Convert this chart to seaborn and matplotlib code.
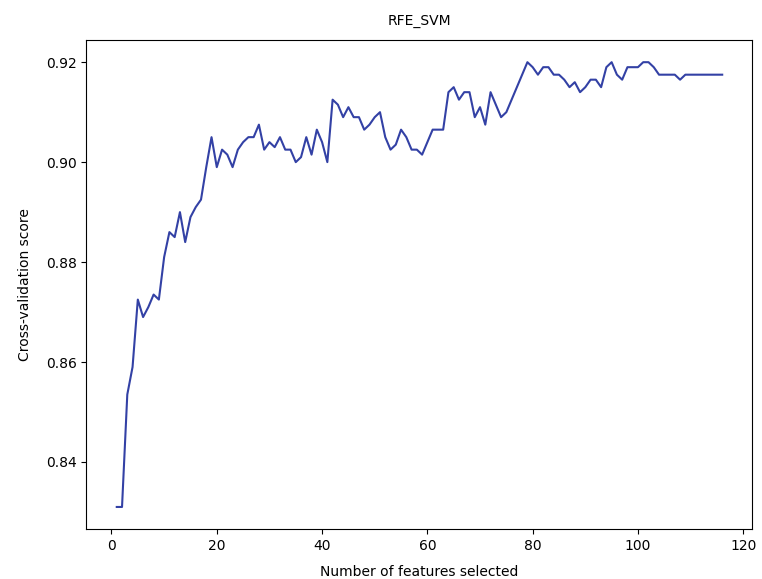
import matplotlib
matplotlib.use("Agg")
import matplotlib.pyplot as plt
import seaborn as sns
import pandas as pd

n_features = list(range(1, 117))
cv_scores = [
    0.831, 0.831, 0.8535, 0.859, 0.8725, 0.869, 0.871, 0.8735, 0.8725, 0.881,
    0.886, 0.885, 0.890, 0.884, 0.889, 0.891, 0.8925, 0.899, 0.905, 0.899,
    0.9025, 0.9015, 0.899, 0.9025, 0.904, 0.905, 0.905, 0.9075, 0.9025, 0.904,
    0.903, 0.905, 0.9025, 0.9025, 0.900, 0.901, 0.905, 0.9015, 0.9065, 0.904,
    0.900, 0.9125, 0.9115, 0.909, 0.911, 0.909, 0.909, 0.9065, 0.9075, 0.909,
    0.910, 0.905, 0.9025, 0.9035, 0.9065, 0.905, 0.9025, 0.9025, 0.9015, 0.904,
    0.9065, 0.9065, 0.9065, 0.914, 0.915, 0.9125, 0.914, 0.914, 0.909, 0.911,
    0.9075, 0.914, 0.9115, 0.909, 0.910, 0.9125, 0.915, 0.9175, 0.920, 0.919,
    0.9175, 0.919, 0.919, 0.9175, 0.9175, 0.9165, 0.915, 0.916, 0.914, 0.915,
    0.9165, 0.9165, 0.915, 0.919, 0.920, 0.9175, 0.9165, 0.919, 0.919, 0.919,
    0.920, 0.920, 0.919, 0.9175, 0.9175, 0.9175, 0.9175, 0.9165, 0.9175, 0.9175,
    0.9175, 0.9175, 0.9175, 0.9175, 0.9175, 0.9175,
]

df = pd.DataFrame({"features": n_features, "score": cv_scores})

fig = plt.figure(figsize=(7.62, 5.79), dpi=100)
ax = fig.add_axes([0.1135, 0.0860, 0.8740, 0.8450])
sns.lineplot(data=df, x="features", y="score", ax=ax, color="#3341a5", linewidth=1.5)
ax.set_title("RFE_SVM", fontsize=10, pad=11)
ax.set_xlabel("Number of features selected", fontsize=10, labelpad=9)
ax.set_ylabel("Cross-validation score", fontsize=10, labelpad=10)
ax.set_xticks([0, 20, 40, 60, 80, 100, 120])
ax.set_yticks([0.84, 0.86, 0.88, 0.90, 0.92])
ax.tick_params(labelsize=10)
fig.savefig("out.png", dpi=100)
